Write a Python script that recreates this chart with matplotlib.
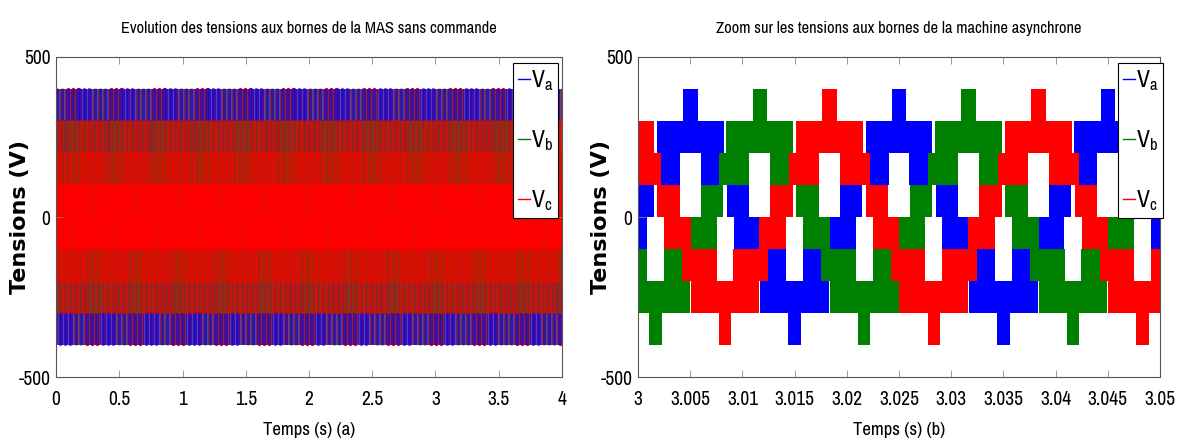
import numpy as np
import matplotlib
matplotlib.use('Agg')
import matplotlib.pyplot as plt
from matplotlib.ticker import FuncFormatter

narrow = ['Archivo Narrow', 'Liberation Sans', 'DejaVu Sans']
plt.rcParams['font.family'] = narrow
plt.rcParams['axes.unicode_minus'] = False
plt.rcParams['mathtext.fontset'] = 'custom'
plt.rcParams['mathtext.rm'] = 'Archivo Narrow'

# periode du reseau (s)
period = 0.02
# bandes de commutation de Va sur une periode (ms depuis le passage a zero montant)
band_lo = [300, 200, 100, 100, 0, 0, -100, -100, -200, -200, -300, -400]
band_hi = [400, 300, 200, 200, 100, 100, 0, 0, -100, -100, -200, -300]
band_t0 = [4.3, 1.8, 1.1, 6.0, -0.65, 8.5, -1.7, 9.15, 10.9, 15.8, 11.7, 14.4]
band_t1 = [5.7, 8.2, 4.0, 8.9, 1.5, 10.65, 0.85, 11.7, 14.2, 19.1, 18.3, 15.6]

# retard de chaque phase (ms)
phases = ['$\\mathrm{V_a}$', '$\\mathrm{V_b}$', '$\\mathrm{V_c}$']
phase_delay = [0.0, 6.667, 13.333]
colors = ['#0000ff', '#008000', '#ff0000']


def style_full(i, lo, hi):
    return 1.0, 1.0 + 0.1 * i


def style_long(i, lo, hi):
    # sur 4 s les traits se melangent : rendu du melange de couleurs
    m = abs(lo + hi) / 2
    if m > 300:
        return [0.6, 0.35, 1.0][i], [1.2, 1.1, 1.0][i]
    if m > 100:
        return [1.0, 0.6, 0.52][i], 1.0 + 0.1 * i
    return [1.0, 0.6, 0.9][i], 1.0 + 0.1 * i


def draw_phases(ax, t_start, t_end, lw, style):
    n0 = int(np.floor(t_start / period)) - 1
    n1 = int(np.ceil(t_end / period)) + 1
    for i, (name, d, c) in enumerate(zip(phases, phase_delay, colors)):
        for lo, hi, a, b in zip(band_lo, band_hi, band_t0, band_t1):
            xr = []
            for k in range(n0, n1):
                s = k * period + (a + d) / 1000.0
                e = k * period + (b + d) / 1000.0
                if e < t_start or s > t_end:
                    continue
                xr.append((max(s, t_start), min(e, t_end) - max(s, t_start)))
            al, z = style(i, lo, hi)
            ax.broken_barh(xr, (lo, hi - lo), facecolors=c, edgecolors=c,
                           linewidth=lw, alpha=al, zorder=z)
        ax.plot([], [], color=c, lw=1, label=name)


fig = plt.figure(figsize=(11.82, 4.46), dpi=100)
ax1 = fig.add_axes([0.0474, 0.1547, 0.428, 0.7175])
ax2 = fig.add_axes([0.5398, 0.1547, 0.4416, 0.7175])

draw_phases(ax1, 0, 4, 1.6, style_long)
draw_phases(ax2, 3.0, 3.05, 0, style_full)

ax1.set_xlim(0, 4)
ax1.set_xticks(np.arange(0, 4.01, 0.5))
ax2.set_xlim(3.0, 3.05)
ax2.set_xticks(np.arange(3.0, 3.0501, 0.005))
ax2.xaxis.set_major_formatter(FuncFormatter(lambda v, p: '%g' % v))
ax1.xaxis.set_major_formatter(FuncFormatter(lambda v, p: '%g' % v))

titles = ['Evolution des tensions aux bornes de la MAS sans commande',
          'Zoom sur les tensions aux bornes de la machine asynchrone']
xlabels = ['Temps (s) (a)', 'Temps (s) (b)']
leg_x = [0.992, 1.006]

for ax, ti, xl, lx in zip([ax1, ax2], titles, xlabels, leg_x):
    ax.set_ylim(-500, 500)
    ax.set_yticks([-500, 0, 500])
    ax.tick_params(direction='in', top=True, right=True, labelsize=14, length=5,
                   width=0.6, color='#888888')
    ax.tick_params(axis='x', pad=9)
    ax.tick_params(axis='y', pad=4)
    ax.set_title(ti, fontsize=11.8, pad=17)
    ax.set_xlabel(xl, fontsize=13.5, labelpad=10)
    ax.set_ylabel('Tensions (V)', fontsize=16, fontweight='bold',
                  family=['DejaVu Sans'])
    ax.yaxis.set_label_coords(-0.052, 0.5)
    for sp in ax.spines.values():
        sp.set_color('#555555')
        sp.set_linewidth(0.8)
    leg = ax.legend(loc='upper right', bbox_to_anchor=(lx, 0.981), fontsize=17,
                    handlelength=0.5, handletextpad=0.05, labelspacing=1.5,
                    borderpad=0.2, borderaxespad=0, fancybox=False, framealpha=1)
    leg.get_frame().set_edgecolor('black')
    leg.get_frame().set_linewidth(0.8)

fig.savefig('out.png', dpi=100)
